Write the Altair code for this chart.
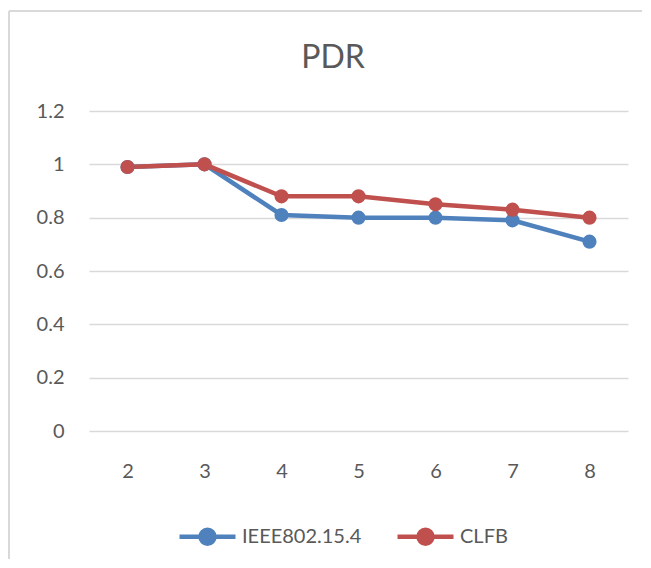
import altair as alt
import pandas as pd

nodes = [2, 3, 4, 5, 6, 7, 8]
ieee = [0.99, 1.00, 0.81, 0.80, 0.80, 0.79, 0.71]
clfb = [0.99, 1.00, 0.88, 0.88, 0.85, 0.83, 0.80]
series = ["IEEE802.15.4", "CLFB"]
colors = ["#4F81BD", "#C0504D"]
y_ticks = [0, 0.2, 0.4, 0.6, 0.8, 1.0, 1.2]
title_text = "PDR"

rows = []
for name, vals in zip(series, [ieee, clfb]):
    for n, v in zip(nodes, vals):
        rows.append({"n": n, "pdr": v, "series": name})
df = pd.DataFrame(rows)

FONT = "Lato"
GRAY = "#595959"
BORDER = "#d9d9d9"

legend_symbol = "M-1,0L1,0M0.25,0A0.25,0.25,0,1,1,-0.25,0A0.25,0.25,0,1,1,0.25,0Z"

lines = alt.Chart(df).mark_line(
    strokeWidth=4.5,
    point=alt.OverlayMarkDef(filled=True, size=200, opacity=1),
).encode(
    x=alt.X("n:O", scale=alt.Scale(type="point", padding=0.5),
            axis=alt.Axis(title=None, labelAngle=0, domain=False, ticks=False,
                          labelPadding=30, labelFontSize=20, labelFont=FONT,
                          labelColor=GRAY, grid=False)),
    y=alt.Y("pdr:Q", scale=alt.Scale(domain=[0, 1.2], nice=False),
            axis=alt.Axis(title=None, values=y_ticks, format="~g", domain=False,
                          ticks=False, labelPadding=25, labelFontSize=20,
                          labelFont=FONT, labelColor=GRAY, grid=True,
                          gridColor=BORDER, gridWidth=1.5)),
    color=alt.Color("series:N", sort=series,
                    scale=alt.Scale(domain=series, range=colors),
                    legend=alt.Legend(title=None, orient="none", direction="horizontal",
                                      legendX=88, legendY=395,
                                      symbolType=legend_symbol, symbolSize=3136,
                                      symbolStrokeWidth=4.5, labelFontSize=20,
                                      labelFont=FONT, labelColor=GRAY, labelOffset=4,
                                      columnPadding=26, padding=0)),
    order="n:O",
)

one = pd.DataFrame({"a": [0]})
top_border = alt.Chart(one).mark_rule(color=BORDER, strokeWidth=2, clip=False).encode(
    x=alt.value(-80), x2=alt.value(553), y=alt.value(-100)
)
left_border = alt.Chart(one).mark_rule(color=BORDER, strokeWidth=2, clip=False).encode(
    x=alt.value(-80), y=alt.value(-100), y2=alt.value(448)
)

title = alt.Chart(pd.DataFrame({"t": [title_text]})).mark_text(
    font=FONT, fontSize=32, color=GRAY, align="center", baseline="alphabetic"
).encode(
    text="t:N", x=alt.value(244), y=alt.value(-43)
)

chart = alt.layer(top_border, left_border, lines, title).properties(
    width=539,
    height=320,
    background="white",
    autosize=alt.AutoSizeParams(type="none"),
    padding={"left": 81, "top": 103, "right": 15, "bottom": 129},
).configure_view(strokeWidth=0, stroke="white", strokeOpacity=0)

chart.save("out.html", embed_options={"renderer": "svg", "actions": False})
